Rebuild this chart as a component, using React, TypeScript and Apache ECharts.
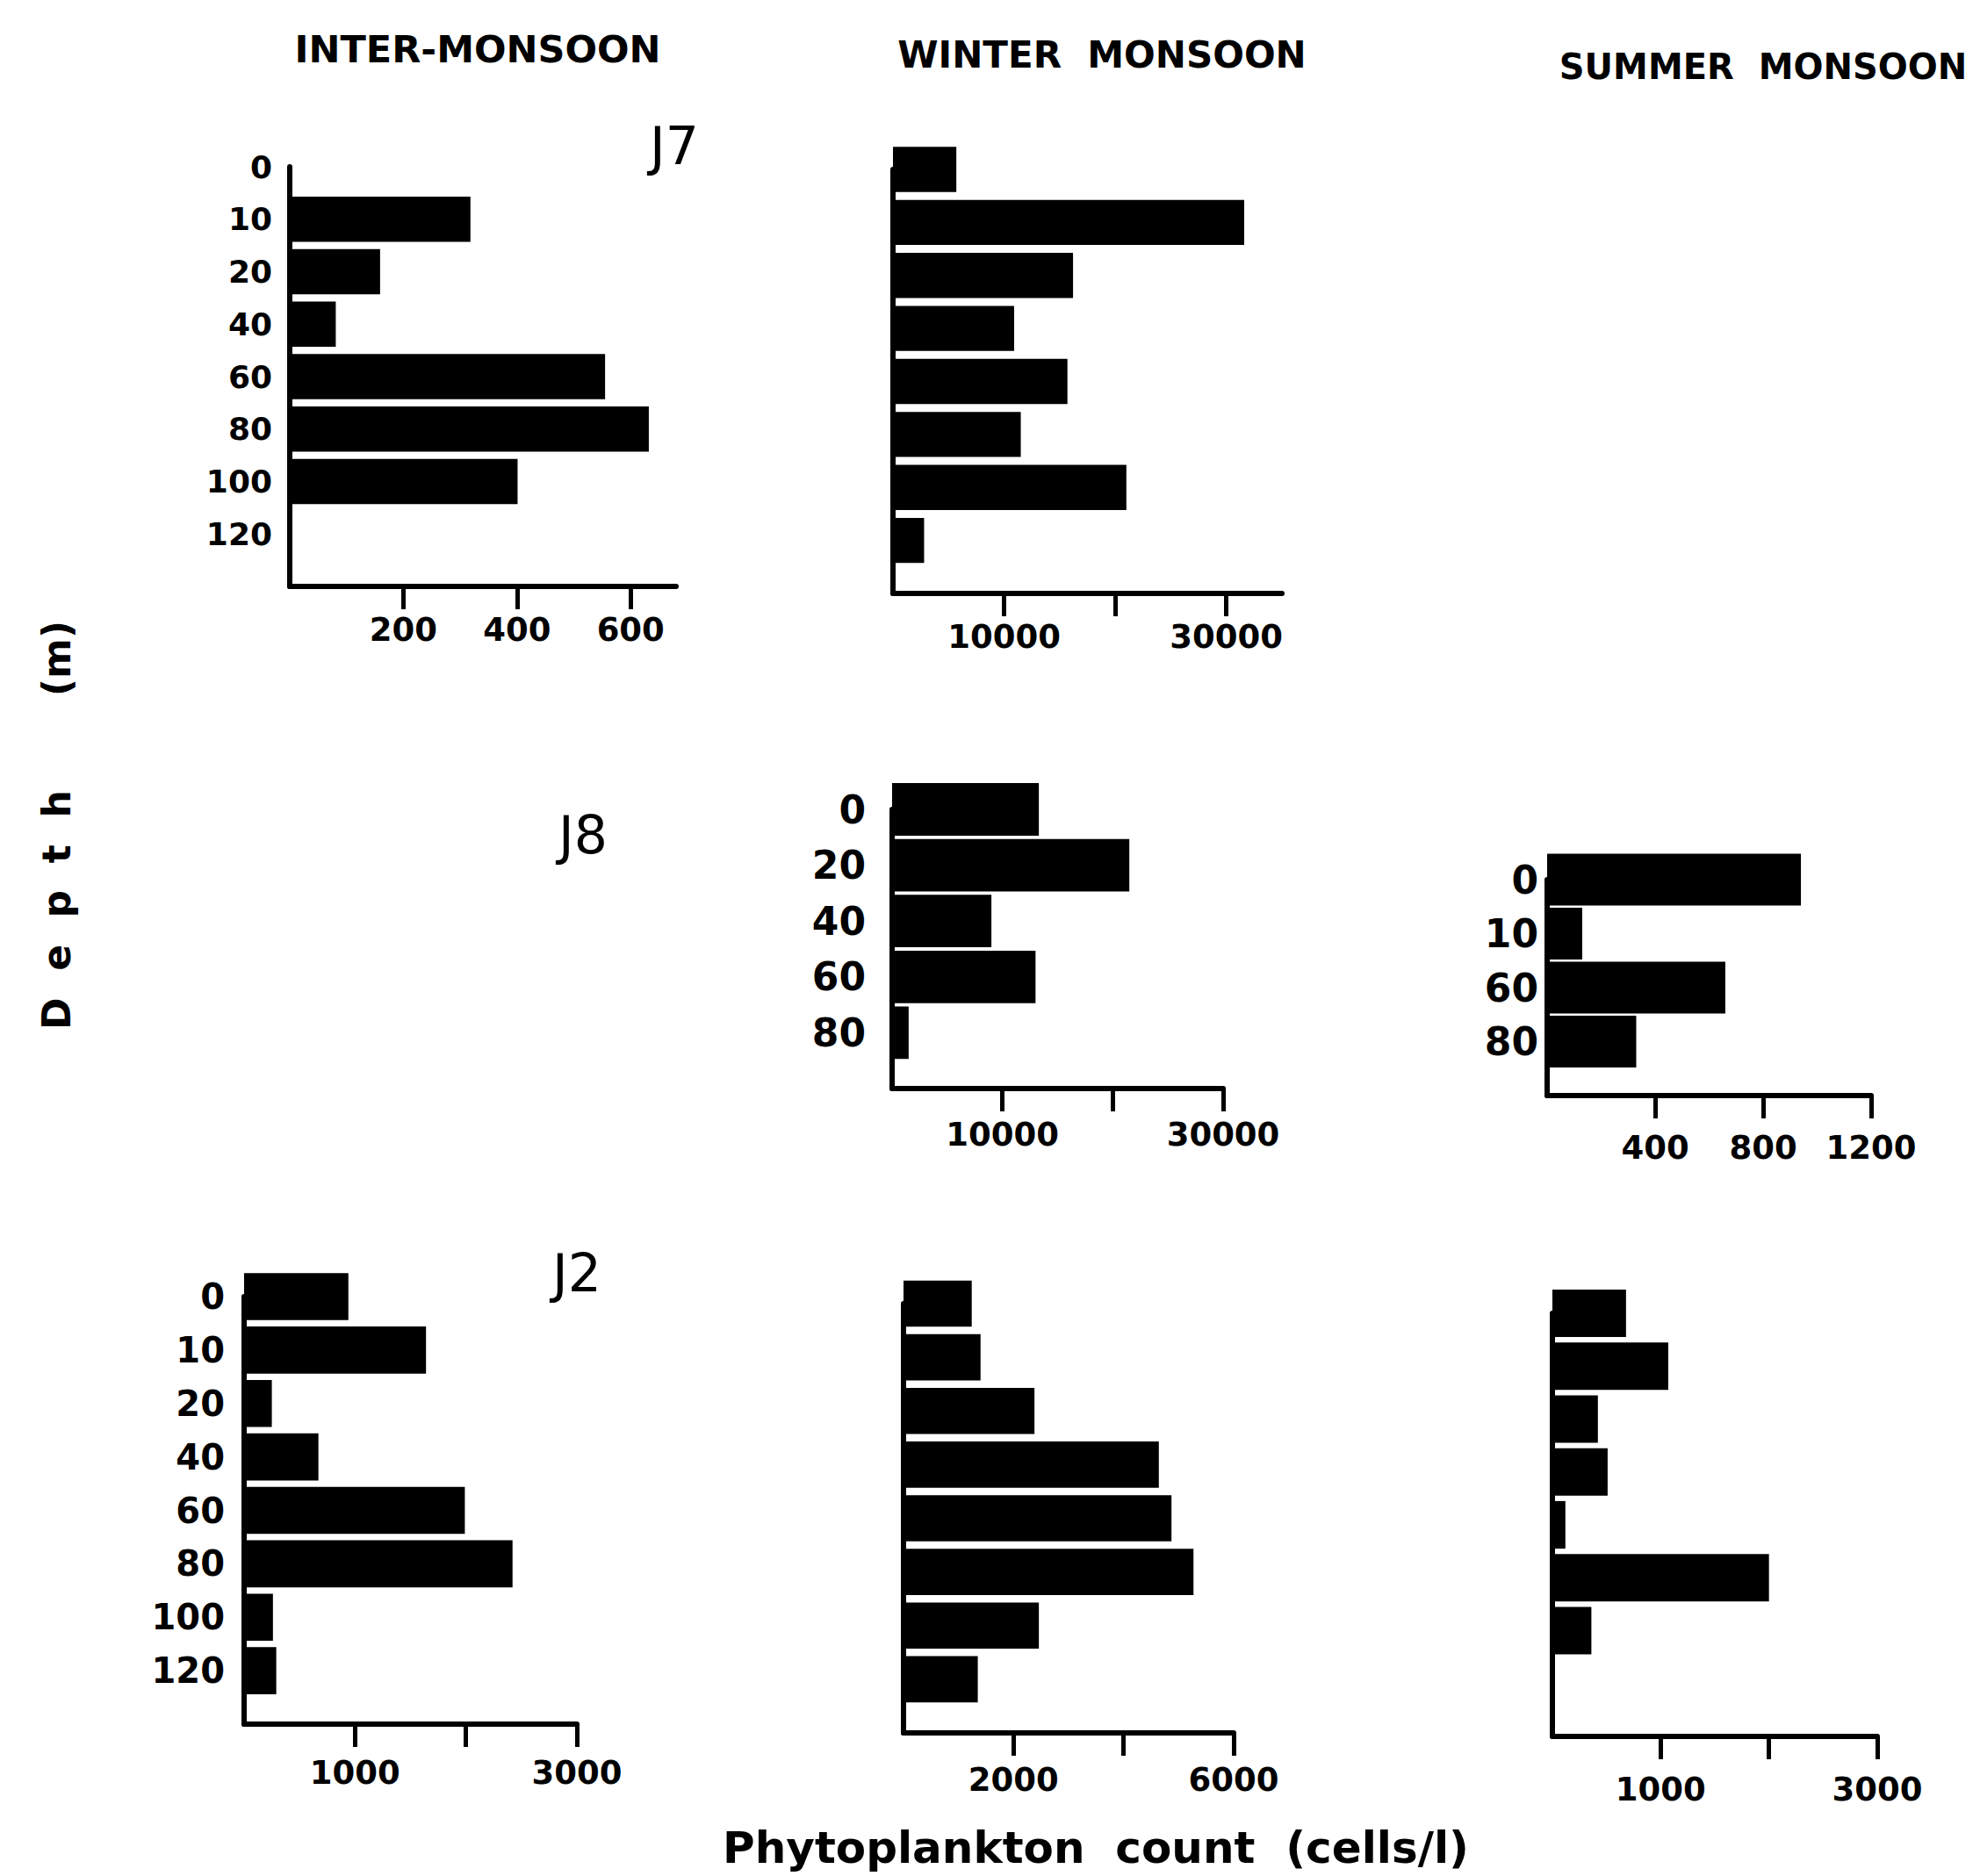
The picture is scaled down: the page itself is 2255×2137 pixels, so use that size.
import React, { useEffect, useRef } from 'react';
import * as echarts from 'echarts';

const W = 2255;
const H = 2137;
const FONT = '"DejaVu Sans", sans-serif';

// Headings and station labels
const seasonTitles = ['INTER-MONSOON', 'WINTER  MONSOON', 'SUMMER  MONSOON'];
const stationLabels = ['J7', 'J8', 'J2'];
const depthAxisTitle = 'D  e  p  t  h       (m)';
const countAxisTitle = 'Phytoplankton  count  (cells/l)';

// Depth categories (m)
const depthsJ7 = ['0', '10', '20', '40', '60', '80', '100', '120'];
const depthsJ8Winter = ['0', '20', '40', '60', '80'];
const depthsJ8Summer = ['0', '10', '60', '80'];
const depthsJ2 = ['0', '10', '20', '40', '60', '80', '100', '120'];

// Phytoplankton counts (cells/l)
const j7Inter = [0, 318, 159, 81, 555, 632, 401, 0];
const j7Winter = [5700, 31600, 16200, 10900, 15700, 11500, 21000, 2800];
const j8Winter = [13300, 21500, 9000, 13000, 1500];
const j8Summer = [940, 130, 660, 330];
const j2Inter = [940, 1640, 250, 670, 1990, 2420, 260, 290];
const j2Winter = [1240, 1400, 2380, 4640, 4870, 5270, 2460, 1350];
const j2Summer = [680, 1070, 420, 510, 120, 2000, 360, 0];

// Tick marks and tick labels of the count axes
const ticksJ7Inter = [200, 400, 600];
const labelsJ7Inter = [200, 400, 600];
const ticks30k = [10000, 20000, 30000];
const labels30k = [10000, 30000];
const ticksJ8Summer = [400, 800, 1200];
const labelsJ8Summer = [400, 800, 1200];
const ticks3000 = [1000, 2000, 3000];
const labels3000 = [1000, 3000];
const ticks6000 = [2000, 4000, 6000];
const labels6000 = [2000, 6000];

// Axis maxima
const maxJ7Inter = 680;
const maxJ7Winter = 35000;
const maxJ8Winter = 30000;
const maxJ8Summer = 1200;
const max3000 = 3000;
const max6000 = 6000;

type Panel = {
  depths: string[];
  values: number[];
  max: number;
  ticks: number[];
  labels: number[];
  showY: boolean;
  left: number;
  top: number;
  width: number;
  height: number;
  gap: string;
  yFont: number;
  yMargin: number;
  xMargin: number;
};

const panels: Panel[] = [
  { depths: depthsJ7, values: j7Inter, max: maxJ7Inter, ticks: ticksJ7Inter, labels: labelsJ7Inter, showY: true,
    left: 330, top: 190, width: 440, height: 478, gap: '14%', yFont: 36, yMargin: 20, xMargin: 31 },
  { depths: depthsJ7, values: j7Winter, max: maxJ7Winter, ticks: ticks30k, labels: labels30k, showY: false,
    left: 1017, top: 193, width: 443, height: 483, gap: '15%', yFont: 36, yMargin: 22, xMargin: 31 },
  { depths: depthsJ8Winter, values: j8Winter, max: maxJ8Winter, ticks: ticks30k, labels: labels30k, showY: true,
    left: 1016, top: 922, width: 377, height: 318, gap: '6%', yFont: 44, yMargin: 30, xMargin: 34 },
  { depths: depthsJ8Summer, values: j8Summer, max: maxJ8Summer, ticks: ticksJ8Summer, labels: labelsJ8Summer, showY: true,
    left: 1762, top: 1002, width: 369, height: 246, gap: '4%', yFont: 44, yMargin: 10, xMargin: 41 },
  { depths: depthsJ2, values: j2Inter, max: max3000, ticks: ticks3000, labels: labels3000, showY: true,
    left: 278, top: 1477, width: 379, height: 487, gap: '12%', yFont: 40, yMargin: 22, xMargin: 37 },
  { depths: depthsJ2, values: j2Winter, max: max6000, ticks: ticks6000, labels: labels6000, showY: false,
    left: 1029, top: 1485, width: 376, height: 489, gap: '14%', yFont: 40, yMargin: 22, xMargin: 35 },
  { depths: depthsJ2, values: j2Summer, max: max3000, ticks: ticks3000, labels: labels3000, showY: false,
    left: 1768, top: 1496, width: 370, height: 482, gap: '10%', yFont: 40, yMargin: 22, xMargin: 42 },
];

const axisLineStyle = { color: '#000', width: 6 };

function buildOption(): any {
  const grid = panels.map((p) => ({
    left: p.left,
    top: p.top,
    width: p.width,
    height: p.height,
    containLabel: false,
    outerBoundsMode: 'none',
  }));

  const xAxis = panels.map((p, i) => ({
    type: 'value',
    gridIndex: i,
    min: 0,
    max: p.max,
    axisLine: { show: true, onZero: false, lineStyle: axisLineStyle },
    axisTick: { show: true, length: 26, customValues: p.ticks, lineStyle: { color: '#000', width: 5 } },
    axisLabel: {
      show: true,
      customValues: p.labels,
      formatter: (v: number) => String(v),
      fontSize: 37,
      fontWeight: 'bold',
      fontFamily: FONT,
      color: '#000',
      margin: p.xMargin,
    },
    splitLine: { show: false },
  }));

  const yAxis = panels.map((p, i) => ({
    type: 'category',
    gridIndex: i,
    inverse: true,
    boundaryGap: false,
    data: [...p.depths, ''],
    axisLine: { show: true, onZero: false, lineStyle: axisLineStyle },
    axisTick: { show: false },
    axisLabel: {
      show: p.showY,
      interval: 0,
      fontSize: p.yFont,
      fontWeight: 'bold',
      fontFamily: FONT,
      color: '#000',
      margin: p.yMargin,
    },
    splitLine: { show: false },
  }));

  const series = panels.map((p, i) => ({
    type: 'bar',
    xAxisIndex: i,
    yAxisIndex: i,
    data: p.values,
    barCategoryGap: p.gap,
    itemStyle: { color: '#000' },
    clip: false,
    silent: true,
  }));

  const txt = (text: string, x: number, y: number, size: number, weight: string, align = 'center', rotation = 0) => ({
    type: 'text',
    x,
    y,
    rotation,
    silent: true,
    style: {
      text,
      fill: '#000',
      fontSize: size,
      fontWeight: weight,
      fontFamily: FONT,
      textAlign: align,
      textVerticalAlign: 'middle',
    },
  });

  const graphic = [
    txt(seasonTitles[0], 544, 56, 43, 'bold'),
    txt(seasonTitles[1], 1255, 62, 42, 'bold'),
    txt(seasonTitles[2], 2008, 76, 40, 'bold'),
    txt(stationLabels[0], 768, 166, 60, 'normal'),
    txt(stationLabels[1], 664, 951, 60, 'normal'),
    txt(stationLabels[2], 657, 1450, 60, 'normal'),
    txt(depthAxisTitle, 64, 940, 44, 'bold', 'center', Math.PI / 2),
    txt(countAxisTitle, 1248, 2105, 50, 'bold'),
  ];

  return {
    animation: false,
    backgroundColor: '#fff',
    grid,
    xAxis,
    yAxis,
    series,
    graphic,
  };
}

export default function App() {
  const ref = useRef<HTMLDivElement>(null);
  useEffect(() => {
    document.body.style.margin = '0';
    if (!ref.current) return;
    const chart = echarts.init(ref.current, null, { renderer: 'svg', width: W, height: H });
    chart.setOption(buildOption());
    return () => {
      chart.dispose();
    };
  }, []);
  return <div ref={ref} style={{ width: W, height: H, background: '#fff' }} />;
}
